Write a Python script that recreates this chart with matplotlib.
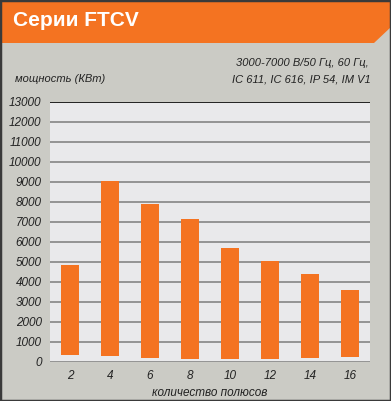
import numpy as np
import matplotlib
matplotlib.use("Agg")
import matplotlib.pyplot as plt
from matplotlib.patches import Polygon, Rectangle

# данные
poles = ["2", "4", "6", "8", "10", "12", "14", "16"]
power_max = [4850, 9050, 7900, 7150, 5700, 5050, 4400, 3600]
power_min = [350, 300, 200, 150, 150, 150, 200, 250]
y_ticks = list(range(0, 14000, 1000))

W, H = 391, 401
bg = "#cbcbc5"
orange = "#f47321"
txt = "#222222"
plt.rcParams["font.family"] = ["Liberation Sans", "DejaVu Sans"]

fig = plt.figure(figsize=(W / 100, H / 100), dpi=100, facecolor=bg)

# шапка
hdr = Polygon([(0, 1), (1, 1), (1, 1 - 27 / H), (374 / W, 1 - 43 / H), (0, 1 - 43 / H)],
              closed=True, transform=fig.transFigure, facecolor=orange, edgecolor="none")
fig.patches.append(hdr)
fig.patches.append(Rectangle((0, 0), 1, 1, transform=fig.transFigure, fill=False,
                             edgecolor="#3a3a3a", linewidth=2.5))
fig.text(13 / W, 1 - 20 / H, "Серии FTCV", color="white", fontsize=15,
         fontweight="bold", va="center", ha="left")

fig.text(369 / W, 1 - 63 / H, "3000-7000 В/50 Гц, 60 Гц,", color=txt, fontsize=8,
         style="italic", ha="right", va="center")
fig.text(371 / W, 1 - 80 / H, "IC 611, IC 616, IP 54, IM V1", color=txt, fontsize=8,
         style="italic", ha="right", va="center")
fig.text(15 / W, 1 - 79 / H, "мощность (КВт)", color=txt, fontsize=8,
         style="italic", ha="left", va="center")

ax = fig.add_axes([50 / W, (H - 362) / H, 320 / W, 260 / H])
ax.set_facecolor("#e9e9eb")
x = np.arange(len(poles))
heights = np.array(power_max) - np.array(power_min)
ax.bar(x, heights, bottom=power_min, width=0.47, color=orange, zorder=3)

ax.set_xlim(-0.5, len(poles) - 0.5)
ax.set_ylim(0, 13000)
ax.set_yticks(y_ticks)
ax.set_xticks(x)
ax.set_xticklabels(poles)
for t in y_ticks:
    ax.axhline(t, color="#111111" if t == 13000 else "#8c8c8c", lw=1.3, zorder=2)
for s in ax.spines.values():
    s.set_visible(False)
ax.tick_params(length=0, pad=6, colors=txt, labelsize=8.5)
for lab in ax.get_xticklabels() + ax.get_yticklabels():
    lab.set_style("italic")
ax.set_xlabel("количество полюсов", fontsize=8.5, style="italic", color=txt, labelpad=3)

fig.savefig("out.png", dpi=100, facecolor=bg)
